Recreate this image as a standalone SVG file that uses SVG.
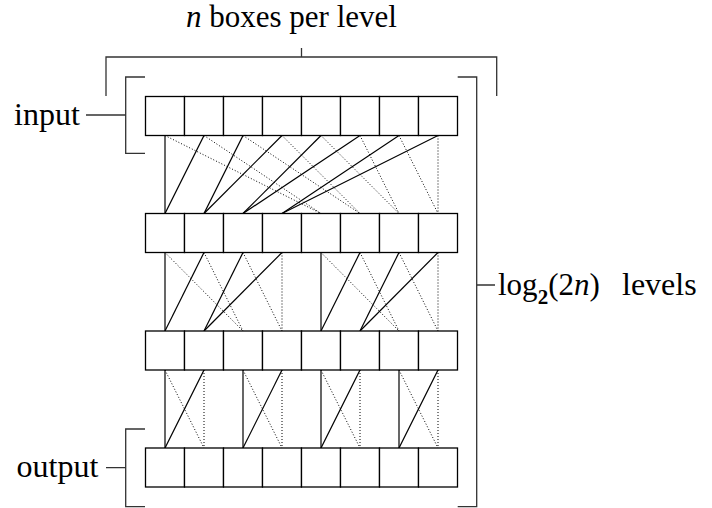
<svg xmlns="http://www.w3.org/2000/svg" width="712" height="508" viewBox="0 0 712 508">
  <style>
    .box { fill: #fff; stroke: #000; stroke-width: 1.3; }
    .solid { stroke: #000; stroke-width: 1.2; fill: none; }
    .dot { stroke: #000; stroke-width: 1; stroke-dasharray: 1 2; fill: none; }
    .brk { stroke: #333; stroke-width: 1.3; fill: none; }
  </style>
  <rect width="712" height="508" fill="#fff"/>

  <!-- connectors between levels -->
  <g id="connectors">
    <!-- level 1 to level 2 -->
    <g class="solid">
      <line x1="165" y1="135.5" x2="165" y2="213.5"/>
      <line x1="204" y1="135.5" x2="165" y2="213.5"/>
      <line x1="243" y1="135.5" x2="204" y2="213.5"/>
      <line x1="282" y1="135.5" x2="204" y2="213.5"/>
      <line x1="321" y1="135.5" x2="243" y2="213.5"/>
      <line x1="360" y1="135.5" x2="243" y2="213.5"/>
      <line x1="399" y1="135.5" x2="282" y2="213.5"/>
      <line x1="438" y1="135.5" x2="282" y2="213.5"/>
    </g>
    <g class="dot">
      <line x1="165" y1="135.5" x2="321" y2="213.5"/>
      <line x1="204" y1="135.5" x2="321" y2="213.5"/>
      <line x1="243" y1="135.5" x2="360" y2="213.5"/>
      <line x1="282" y1="135.5" x2="360" y2="213.5"/>
      <line x1="321" y1="135.5" x2="399" y2="213.5"/>
      <line x1="360" y1="135.5" x2="399" y2="213.5"/>
      <line x1="399" y1="135.5" x2="438" y2="213.5"/>
      <line x1="438" y1="135.5" x2="438" y2="213.5"/>
    </g>
    <!-- level 2 to level 3 -->
    <g class="solid">
      <line x1="165" y1="252.5" x2="165" y2="331"/>
      <line x1="204" y1="252.5" x2="165" y2="331"/>
      <line x1="243" y1="252.5" x2="204" y2="331"/>
      <line x1="282" y1="252.5" x2="204" y2="331"/>
      <line x1="321" y1="252.5" x2="321" y2="331"/>
      <line x1="360" y1="252.5" x2="321" y2="331"/>
      <line x1="399" y1="252.5" x2="360" y2="331"/>
      <line x1="438" y1="252.5" x2="360" y2="331"/>
    </g>
    <g class="dot">
      <line x1="165" y1="252.5" x2="243" y2="331"/>
      <line x1="204" y1="252.5" x2="243" y2="331"/>
      <line x1="243" y1="252.5" x2="282" y2="331"/>
      <line x1="282" y1="252.5" x2="282" y2="331"/>
      <line x1="321" y1="252.5" x2="399" y2="331"/>
      <line x1="360" y1="252.5" x2="399" y2="331"/>
      <line x1="399" y1="252.5" x2="438" y2="331"/>
      <line x1="438" y1="252.5" x2="438" y2="331"/>
    </g>
    <!-- level 3 to level 4 -->
    <g class="solid">
      <line x1="165" y1="370" x2="165" y2="448"/>
      <line x1="204" y1="370" x2="165" y2="448"/>
      <line x1="243" y1="370" x2="243" y2="448"/>
      <line x1="282" y1="370" x2="243" y2="448"/>
      <line x1="321" y1="370" x2="321" y2="448"/>
      <line x1="360" y1="370" x2="321" y2="448"/>
      <line x1="399" y1="370" x2="399" y2="448"/>
      <line x1="438" y1="370" x2="399" y2="448"/>
    </g>
    <g class="dot">
      <line x1="165" y1="370" x2="204" y2="448"/>
      <line x1="204" y1="370" x2="204" y2="448"/>
      <line x1="243" y1="370" x2="282" y2="448"/>
      <line x1="282" y1="370" x2="282" y2="448"/>
      <line x1="321" y1="370" x2="360" y2="448"/>
      <line x1="360" y1="370" x2="360" y2="448"/>
      <line x1="399" y1="370" x2="438" y2="448"/>
      <line x1="438" y1="370" x2="438" y2="448"/>
    </g>
  </g>

  <!-- level 1 (input) -->
  <g id="level1">
    <g id="l1b0"><rect class="box" x="145.5" y="96.5" width="39" height="39"/></g>
    <g id="l1b1"><rect class="box" x="184.5" y="96.5" width="39" height="39"/></g>
    <g id="l1b2"><rect class="box" x="223.5" y="96.5" width="39" height="39"/></g>
    <g id="l1b3"><rect class="box" x="262.5" y="96.5" width="39" height="39"/></g>
    <g id="l1b4"><rect class="box" x="301.5" y="96.5" width="39" height="39"/></g>
    <g id="l1b5"><rect class="box" x="340.5" y="96.5" width="39" height="39"/></g>
    <g id="l1b6"><rect class="box" x="379.5" y="96.5" width="39" height="39"/></g>
    <g id="l1b7"><rect class="box" x="418.5" y="96.5" width="39" height="39"/></g>
  </g>
  <!-- level 2 -->
  <g id="level2">
    <g id="l2b0"><rect class="box" x="145.5" y="213.5" width="39" height="39"/></g>
    <g id="l2b1"><rect class="box" x="184.5" y="213.5" width="39" height="39"/></g>
    <g id="l2b2"><rect class="box" x="223.5" y="213.5" width="39" height="39"/></g>
    <g id="l2b3"><rect class="box" x="262.5" y="213.5" width="39" height="39"/></g>
    <g id="l2b4"><rect class="box" x="301.5" y="213.5" width="39" height="39"/></g>
    <g id="l2b5"><rect class="box" x="340.5" y="213.5" width="39" height="39"/></g>
    <g id="l2b6"><rect class="box" x="379.5" y="213.5" width="39" height="39"/></g>
    <g id="l2b7"><rect class="box" x="418.5" y="213.5" width="39" height="39"/></g>
  </g>
  <!-- level 3 -->
  <g id="level3">
    <g id="l3b0"><rect class="box" x="145.5" y="331" width="39" height="39"/></g>
    <g id="l3b1"><rect class="box" x="184.5" y="331" width="39" height="39"/></g>
    <g id="l3b2"><rect class="box" x="223.5" y="331" width="39" height="39"/></g>
    <g id="l3b3"><rect class="box" x="262.5" y="331" width="39" height="39"/></g>
    <g id="l3b4"><rect class="box" x="301.5" y="331" width="39" height="39"/></g>
    <g id="l3b5"><rect class="box" x="340.5" y="331" width="39" height="39"/></g>
    <g id="l3b6"><rect class="box" x="379.5" y="331" width="39" height="39"/></g>
    <g id="l3b7"><rect class="box" x="418.5" y="331" width="39" height="39"/></g>
  </g>
  <!-- level 4 (output) -->
  <g id="level4">
    <g id="l4b0"><rect class="box" x="145.5" y="448" width="39" height="39"/></g>
    <g id="l4b1"><rect class="box" x="184.5" y="448" width="39" height="39"/></g>
    <g id="l4b2"><rect class="box" x="223.5" y="448" width="39" height="39"/></g>
    <g id="l4b3"><rect class="box" x="262.5" y="448" width="39" height="39"/></g>
    <g id="l4b4"><rect class="box" x="301.5" y="448" width="39" height="39"/></g>
    <g id="l4b5"><rect class="box" x="340.5" y="448" width="39" height="39"/></g>
    <g id="l4b6"><rect class="box" x="379.5" y="448" width="39" height="39"/></g>
    <g id="l4b7"><rect class="box" x="418.5" y="448" width="39" height="39"/></g>
  </g>

  <!-- brackets and labels -->
  <g id="width-label">
    <path class="brk" d="M106,96 V57 H496.7 V96 M301.5,48 V57"/>
    <text font-family="Liberation Serif" font-size="31" x="186" y="27"><tspan font-style="italic">n</tspan> boxes per level</text>
  </g>
  <g id="input-label">
    <path class="brk" d="M145,77 H125.7 V153.3 H145 M86,115 H125.7"/>
    <text font-family="Liberation Serif" font-size="32" x="14" y="125">input</text>
  </g>
  <g id="output-label">
    <path class="brk" d="M145,429 H125.7 V506.7 H145 M106,467.7 H125.7"/>
    <text font-family="Liberation Serif" font-size="32" x="16.5" y="477">output</text>
  </g>
  <g id="levels-label">
    <path class="brk" d="M457.7,77 H476.7 V506.7 H457.7 M476.7,285 H495"/>
    <text font-family="Liberation Serif" font-size="31" x="498" y="295">log<tspan font-weight="bold" font-size="21" dy="9">2</tspan><tspan dy="-9">(2</tspan><tspan font-style="italic">n</tspan>)<tspan x="622" font-size="32">levels</tspan></text>
  </g>
</svg>
